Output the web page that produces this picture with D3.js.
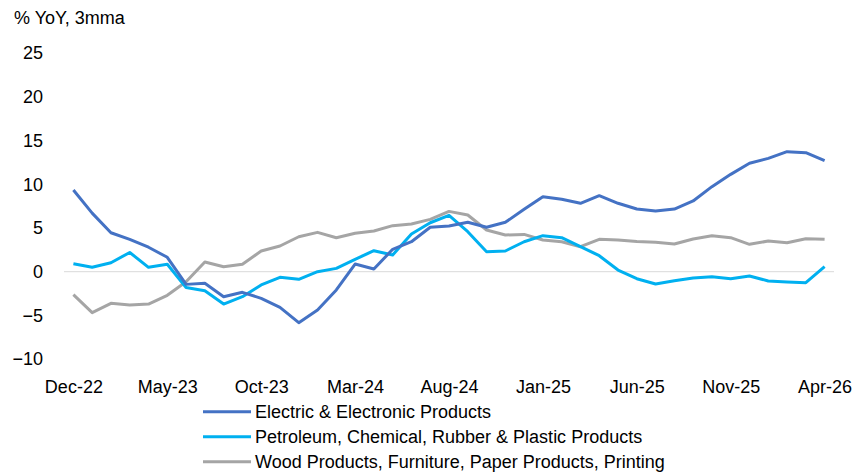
<!DOCTYPE html>
<html>
<head>
<meta charset="utf-8">
<script src="https://cdn.jsdelivr.net/npm/d3@7"></script>
<style>
  body { margin: 0; background: #fff; }
  svg text { font-family: "Liberation Sans", Arial, sans-serif; fill: #000; }
</style>
</head>
<body>
<div id="chart"></div>
<script>
const months = [
    "Dec-22", "Jan-23", "Feb-23", "Mar-23", "Apr-23", "May-23", "Jun-23", "Jul-23", "Aug-23", "Sep-23",
    "Oct-23", "Nov-23", "Dec-23", "Jan-24", "Feb-24", "Mar-24", "Apr-24", "May-24", "Jun-24", "Jul-24",
    "Aug-24", "Sep-24", "Oct-24", "Nov-24", "Dec-24", "Jan-25", "Feb-25", "Mar-25", "Apr-25", "May-25",
    "Jun-25", "Jul-25", "Aug-25", "Sep-25", "Oct-25", "Nov-25", "Dec-25", "Jan-26", "Feb-26", "Mar-26",
    "Apr-26"
];

const electric = [
    9.35, 6.7, 4.46, 3.7, 2.8, 1.65, -1.45, -1.33, -2.86, -2.36,
    -3.05, -4.08, -5.83, -4.38, -2.09, 0.88, 0.31, 2.56, 3.43, 5.08,
    5.23, 5.65, 5.08, 5.65, 7.14, 8.58, 8.28, 7.83, 8.7, 7.83,
    7.17, 6.94, 7.17, 8.09, 9.73, 11.14, 12.4, 12.97, 13.73, 13.62,
    12.7
];

const petroleum = [
    0.92, 0.5, 1.03, 2.2, 0.5, 0.85, -1.8, -2.17, -3.7, -2.86,
    -1.52, -0.64, -0.87, 0.0, 0.38, 1.42, 2.4, 1.91, 4.31, 5.6,
    6.45, 4.58, 2.29, 2.37, 3.43, 4.12, 3.89, 2.86, 1.83, 0.19,
    -0.8, -1.41, -1.03, -0.72, -0.57, -0.8, -0.49, -1.06, -1.18, -1.26,
    0.57
];

const wood = [
    -2.63, -4.69, -3.62, -3.81, -3.7, -2.7, -1.14, 1.11, 0.57, 0.85,
    2.37, 2.94, 4.0, 4.5, 3.89, 4.39, 4.66, 5.27, 5.46, 5.99,
    6.9, 6.49, 4.77, 4.2, 4.27, 3.63, 3.43, 2.86, 3.7, 3.63,
    3.45, 3.36, 3.17, 3.74, 4.12, 3.89, 3.13, 3.51, 3.32, 3.78,
    3.7
];

const seriesNames = [
    "Electric & Electronic Products",
    "Petroleum, Chemical, Rubber & Plastic Products",
    "Wood Products, Furniture, Paper Products, Printing"
];
const seriesColors = ["#4472C4", "#00B0F0", "#A5A5A5"];

const xTicks = ["Dec-22", "May-23", "Oct-23", "Mar-24", "Aug-24", "Jan-25", "Jun-25", "Nov-25", "Apr-26"];
const yTicks = [-10, -5, 0, 5, 10, 15, 20, 25];

const svgWidth = 856;
const svgHeight = 474;
const svg = d3.select("#chart")
    .append("svg")
    .attr("width", svgWidth)
    .attr("height", svgHeight);

const xScale = d3.scalePoint()
    .domain(months)
    .range([64, 834])
    .padding(0.5);

const yScale = d3.scaleLinear()
    .domain([-10, 25])
    .range([359.1, 53.2]);

// y axis labels only
const yAxis = svg.append("g")
    .attr("transform", "translate(64, 0)")
    .call(d3.axisLeft(yScale).tickValues(yTicks).tickSize(0).tickPadding(21).tickFormat(d3.format("d")));
yAxis.select(".domain").remove();
yAxis.selectAll("text").attr("font-size", 18).attr("font-family", null);

// zero line
svg.append("line")
    .attr("x1", 64)
    .attr("x2", 834)
    .attr("y1", yScale(0))
    .attr("y2", yScale(0))
    .attr("stroke", "#D9D9D9")
    .attr("stroke-width", 1);

const xAxis = svg.append("g")
    .attr("transform", `translate(0, ${yScale(-10) + 12})`)
    .call(d3.axisBottom(xScale).tickValues(xTicks).tickSize(0).tickPadding(9));
xAxis.select(".domain").remove();
xAxis.selectAll("text").attr("font-size", 18).attr("font-family", null);

const allSeries = [electric, petroleum, wood];
const line = d3.line()
    .x((d, i) => xScale(months[i]))
    .y(d => yScale(d));

// draw back to front so the blue line is on top
svg.selectAll(".series")
    .data(allSeries.map((values, k) => ({values, k})).reverse())
    .enter()
    .append("path")
    .attr("class", "series")
    .attr("d", d => line(d.values))
    .attr("fill", "none")
    .attr("stroke", d => seriesColors[d.k])
    .attr("stroke-width", 3)
    .attr("stroke-linejoin", "round");

svg.append("text")
    .attr("x", 14)
    .attr("y", 24)
    .attr("font-size", 18)
    .text("% YoY, 3mma");

const legend = svg.selectAll(".legendItem")
    .data(seriesNames)
    .enter()
    .append("g")
    .attr("class", "legendItem")
    .attr("transform", (d, i) => `translate(203, ${411.7 + i * 25})`);

legend.append("line")
    .attr("x1", 0)
    .attr("x2", 48)
    .attr("stroke", (d, i) => seriesColors[i])
    .attr("stroke-width", 3);

legend.append("text")
    .attr("x", 52)
    .attr("dy", 6.5)
    .attr("font-size", 18)
    .text(d => d);
</script>
</body>
</html>
